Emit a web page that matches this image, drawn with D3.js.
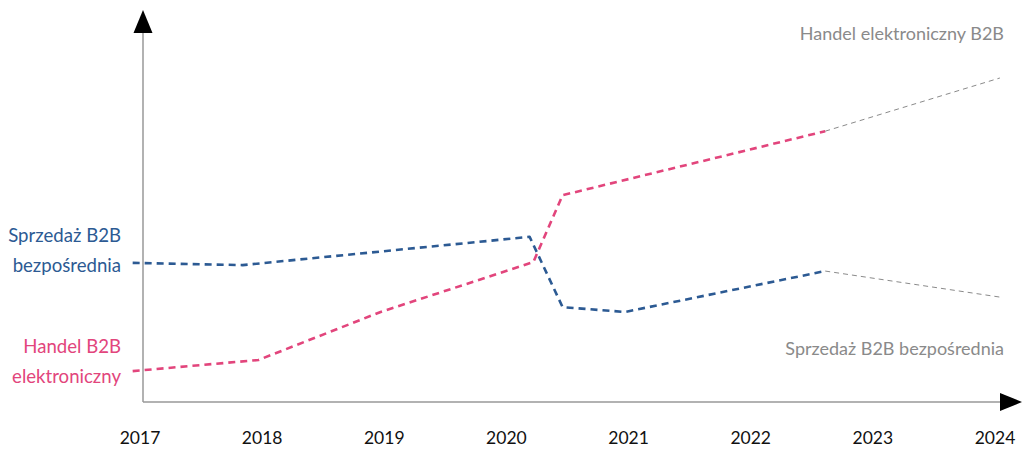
<!DOCTYPE html>
<html>
<head>
<meta charset="utf-8">
<script src="https://cdnjs.cloudflare.com/ajax/libs/d3/7.8.5/d3.min.js"></script>
<style>
  body { margin: 0; background: #fff; }
  text { font-family: "Lato", "Open Sans", sans-serif; }
</style>
</head>
<body>
<div id="chart"></div>
<script>
// years on the axis
var years = [2017, 2018, 2019, 2020, 2021, 2022, 2023, 2024];

// direct sales (index), solid-colour part then grey projection
var directX = [2016.94, 2017.84, 2020.19, 2020.46, 2020.97, 2022.61];
var directY = [37.4, 36.8, 44.4, 25.5, 24.2, 35.2];
var directProjX = [2022.61, 2024.04];
var directProjY = [35.2, 28.2];

// electronic trade (index)
var ecomX = [2016.94, 2017.97, 2018.97, 2020.22, 2020.46, 2022.61];
var ecomY = [8.3, 11.3, 24.2, 37.6, 55.6, 72.8];
var ecomProjX = [2022.61, 2024.04];
var ecomProjY = [72.8, 87.1];

var width = 1024, height = 451;
var blue = "#2c5a93", pink = "#e2457c", grey = "#8a8a8a";

var svg = d3.select("#chart").append("svg")
    .attr("width", width)
    .attr("height", height);

var x = d3.scaleLinear().domain([2017, 2024]).range([140, 995]);
var y = d3.scaleLinear().domain([0, 100]).range([402, 30]);

var axisX0 = 143, axisY0 = 402;

// axes with arrow heads
svg.append("line")
    .attr("x1", axisX0).attr("y1", axisY0)
    .attr("x2", axisX0).attr("y2", 30)
    .attr("stroke", "#999").attr("stroke-width", 1.5);
svg.append("path")
    .attr("d", "M" + axisX0 + ",10 L" + (axisX0 - 9.5) + ",33 L" + (axisX0 + 9.5) + ",33 Z")
    .attr("fill", "#000");
svg.append("line")
    .attr("x1", axisX0).attr("y1", axisY0)
    .attr("x2", 1000).attr("y2", axisY0)
    .attr("stroke", "#999").attr("stroke-width", 1.5);
svg.append("path")
    .attr("d", "M1022," + axisY0 + " L1000," + (axisY0 - 9) + " L1000," + (axisY0 + 9) + " Z")
    .attr("fill", "#000");

// year labels
svg.selectAll(".year")
    .data(years)
    .enter().append("text")
    .attr("class", "year")
    .attr("x", function(d) { return x(d); })
    .attr("y", 444)
    .attr("text-anchor", "middle")
    .attr("font-size", 17.5)
    .attr("fill", "#111")
    .text(function(d) { return d; });

var line = d3.line()
    .x(function(d) { return x(d[0]); })
    .y(function(d) { return y(d[1]); });

function drawSeries(xs, ys, color, w, dash) {
    svg.append("path")
        .datum(d3.zip(xs, ys))
        .attr("d", line)
        .attr("fill", "none")
        .attr("stroke", color)
        .attr("stroke-width", w)
        .attr("stroke-dasharray", dash)
        .attr("stroke-linejoin", "round");
}

drawSeries(directProjX, directProjY, grey, 1, "5,4");
drawSeries(ecomProjX, ecomProjY, grey, 1, "5,4");
drawSeries(directX, directY, blue, 2.6, "7,5");
drawSeries(ecomX, ecomY, pink, 2.6, "7,5");

// labels
function label(lines, xx, yy, color, size, anchor) {
    lines.forEach(function(t, i) {
        svg.append("text")
            .attr("x", xx)
            .attr("y", yy + i * 30)
            .attr("text-anchor", anchor)
            .attr("font-size", size)
            .attr("fill", color)
            .text(t);
    });
}

label(["Sprzedaż B2B", "bezpośrednia"], 121, 242, blue, 18.6, "end");
label(["Handel B2B", "elektroniczny"], 121, 353, pink, 18.6, "end");
label(["Handel elektroniczny B2B"], 1004, 40, grey, 18, "end");
label(["Sprzedaż B2B bezpośrednia"], 1004, 355, grey, 18, "end");
</script>
</body>
</html>
